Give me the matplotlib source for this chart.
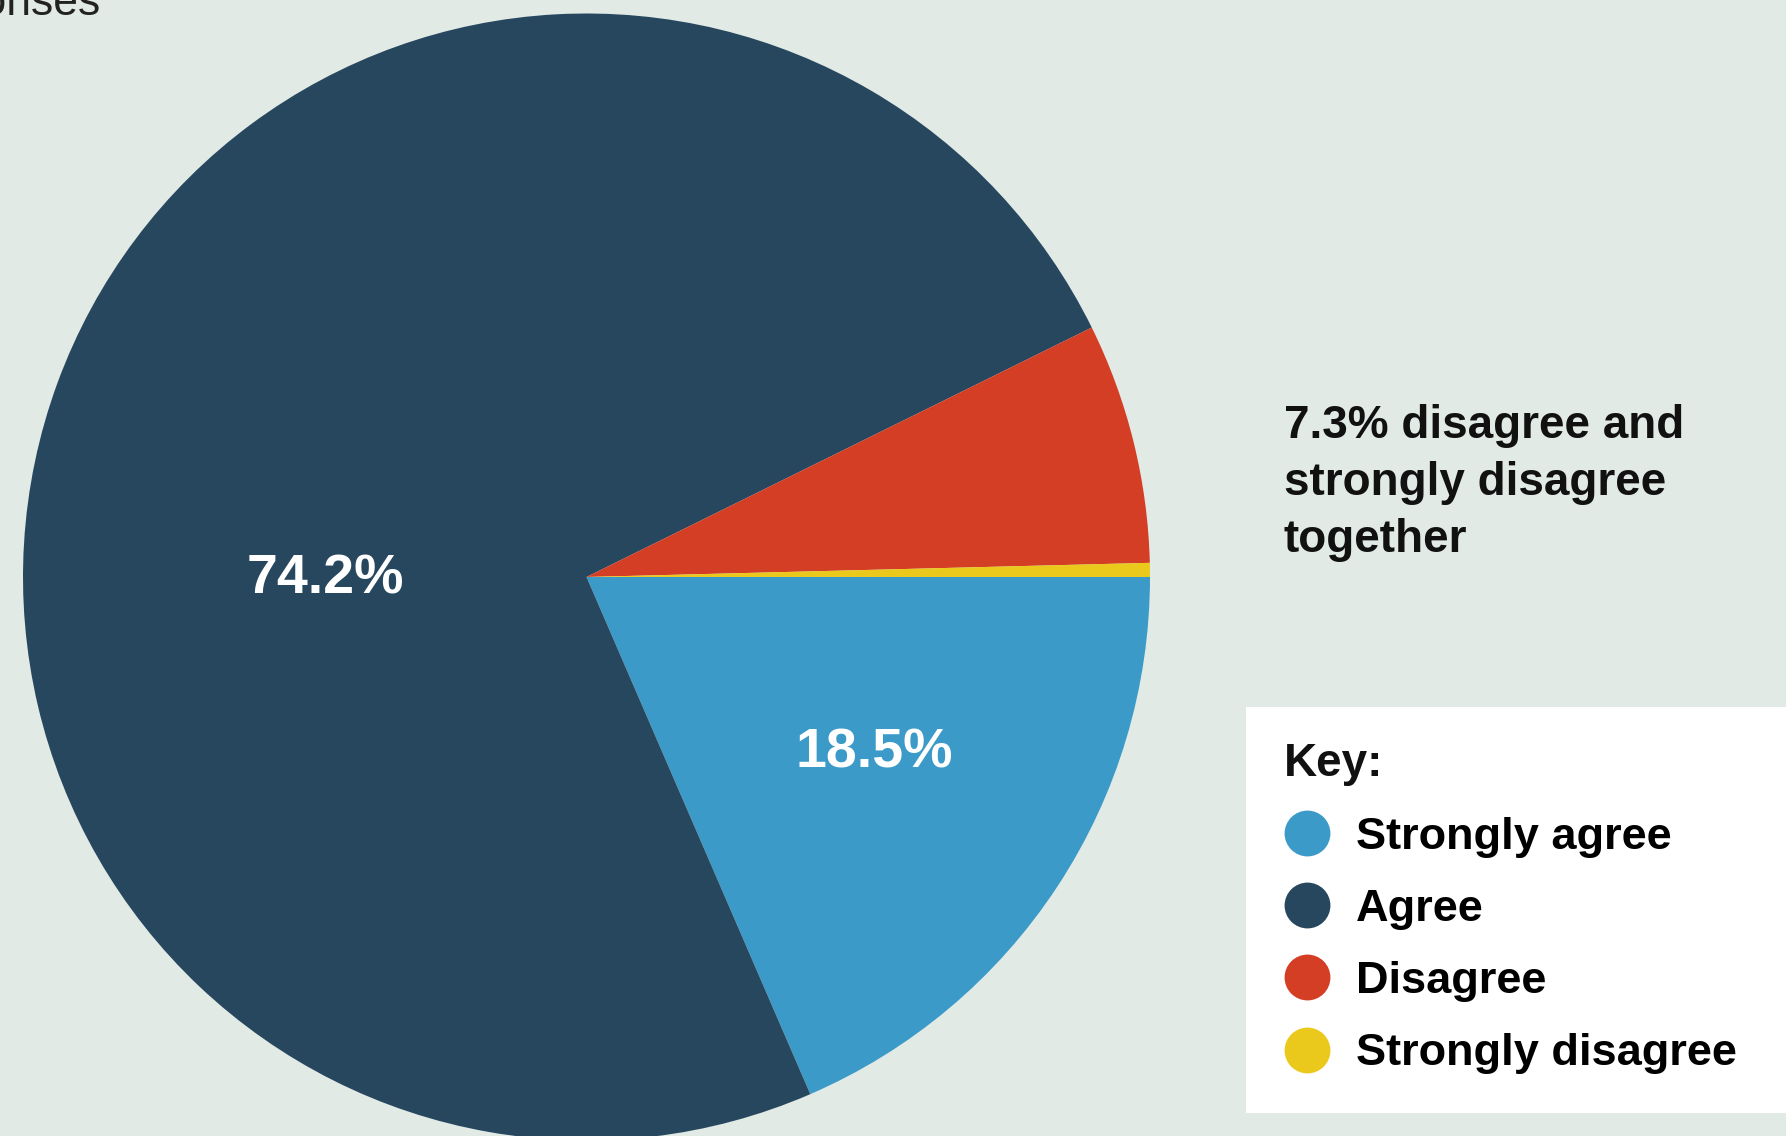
import matplotlib.pyplot as plt
from matplotlib.lines import Line2D
from matplotlib.patches import Rectangle

plt.rcParams['font.family'] = ['Liberation Sans', 'DejaVu Sans']

labels = ['Strongly agree', 'Agree', 'Disagree', 'Strongly disagree']
values = [18.5, 74.2, 6.9, 0.4]
colors = ['#3C9AC9', '#27475F', '#D43E25', '#EBC91C']
bg = '#E1EAE5'
note = '7.3% disagree and\nstrongly disagree\ntogether'

W, H = 1786, 1136
fig = plt.figure(figsize=(W / 100, H / 100), dpi=100)
fig.patch.set_facecolor(bg)
ax = fig.add_axes([0, 0, 1, 1])
ax.set_facecolor(bg)

cx, cy, r = 586.5, H - 577, 563.5
wedges, _ = ax.pie(values, colors=colors, startangle=0, counterclock=False,
                   center=(cx, cy), radius=r, wedgeprops=dict(linewidth=0))
ax.set_xlim(0, W)
ax.set_ylim(0, H)
ax.set_aspect('equal')
ax.axis('off')

# percentage labels
ax.text(cx - 261, cy - 2, f'{values[1]}%', color='white', fontsize=40,
        fontweight='bold', ha='center', va='center')
ax.text(cx + 288, cy - 176, f'{values[0]}%', color='white', fontsize=40,
        fontweight='bold', ha='center', va='center')

# heading, mostly cut off at top-left
ax.text(100, H - 15, 'responses', fontsize=32, color='#222222',
        ha='right', va='baseline')

ax.text(1284, H - 483, note, fontsize=33, fontweight='bold', color='#111111',
        ha='left', va='center', linespacing=1.37)

# key box
ax.add_patch(Rectangle((1246, H - 1113), 600, 406, facecolor='white',
                       edgecolor='none', zorder=2))
ax.text(1284, H - 764, 'Key:', fontsize=33, fontweight='bold',
        color='#111111', ha='left', va='center', zorder=3)
handles = [Line2D([], [], marker='o', linestyle='none', markersize=33,
                  markerfacecolor=c, markeredgewidth=0) for c in colors]
leg = ax.legend(handles, labels, loc='upper left',
                bbox_to_anchor=(1284 / W, 1 - 817 / H), frameon=False,
                prop=dict(size=32.5, weight='bold'),
                handletextpad=0.6, labelspacing=0.69,
                borderpad=0, handlelength=1.0, borderaxespad=0)
leg.set_zorder(3)

fig.savefig('out.png', dpi=100, facecolor=bg)
